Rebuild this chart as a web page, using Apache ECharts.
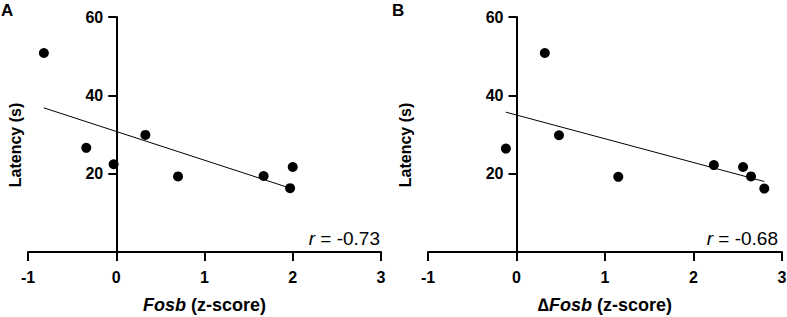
<!DOCTYPE html>
<html>
<head>
<meta charset="utf-8">
<script src="https://cdn.jsdelivr.net/npm/echarts@6/dist/echarts.min.js"></script>
<style>
  html, body { margin: 0; padding: 0; background: #fff; }
  #chart { width: 787px; height: 317px; }
</style>
</head>
<body>
<div id="chart"></div>
<script>
// panel A: Fosb z-score vs latency
var fosbA = [-0.82, -0.34, -0.03, 0.33, 0.70, 1.67, 2.00, 1.97];
var latA = [50.8, 26.6, 22.4, 29.9, 19.3, 19.4, 21.7, 16.3];
var fitXA = [-0.82, 1.93];
var fitYA = [36.8, 16.6];
// panel B: delta Fosb z-score vs latency
var fosbB = [0.32, -0.12, 0.48, 1.15, 2.23, 2.56, 2.65, 2.80];
var latB = [50.8, 26.4, 29.8, 19.2, 22.2, 21.7, 19.3, 16.2];
var fitXB = [-0.12, 2.80];
var fitYB = [35.7, 18.0];
var xTicks = [-1, 0, 1, 2, 3];
var yTicks = [20, 40, 60];

var font = 'Arial, "Liberation Sans", sans-serif';
var ink = '#000';

function pairs(xs, ys) {
  return xs.map(function(x, i) { return [x, ys[i]]; });
}

function xAxisFor(idx, name) {
  return {
    gridIndex: idx, type: 'value', min: xTicks[0], max: xTicks[xTicks.length - 1], interval: 1,
    axisLine: { onZero: false, lineStyle: { color: ink, width: 2 } },
    axisTick: { length: 9, lineStyle: { color: ink, width: 2 } },
    axisLabel: { color: ink, fontFamily: font, fontSize: 16, fontWeight: 'bold', margin: 17 },
    splitLine: { show: false },
    name: name, nameLocation: 'middle', nameGap: 44,
    nameTextStyle: {
      color: ink, fontFamily: font, fontSize: 18, fontWeight: 'bold',
      rich: { i: { fontStyle: 'italic', fontWeight: 'bold', fontSize: 18, fontFamily: font, color: ink } }
    }
  };
}

function yAxisFor(idx, off) {
  return {
    gridIndex: idx, type: 'value', min: 0, max: 60, interval: 20,
    offset: off,
    axisLine: { onZero: false, lineStyle: { color: ink, width: 2 } },
    axisTick: { length: 8, lineStyle: { color: ink, width: 2 } },
    axisLabel: {
      color: ink, fontFamily: font, fontSize: 16, fontWeight: 'bold', margin: 13,
      formatter: function(v) { return yTicks.indexOf(v) >= 0 ? String(v) : ''; }
    },
    splitLine: { show: false }
  };
}

function scatter(idx, xs, ys) {
  return {
    type: 'scatter', xAxisIndex: idx, yAxisIndex: idx,
    symbolSize: 10, itemStyle: { color: ink, opacity: 1 },
    data: pairs(xs, ys), z: 3
  };
}

function fit(idx, xs, ys) {
  return {
    type: 'line', xAxisIndex: idx, yAxisIndex: idx,
    showSymbol: false, symbol: 'none',
    lineStyle: { color: ink, width: 1 },
    data: pairs(xs, ys)
  };
}

function yName(x) {
  return { type: 'text', x: x, y: 145, rotation: Math.PI / 2,
    style: { text: 'Latency (s)', font: 'bold 16px ' + font, fill: ink, align: 'center', verticalAlign: 'middle' } };
}

function rText(x, txt) {
  return { type: 'text', x: x, y: 238,
    style: { text: '{i|r} = ' + txt, font: '19px ' + font, fill: ink, align: 'right', verticalAlign: 'middle',
      rich: { i: { fontStyle: 'italic', fontSize: 19, fontFamily: font } } } };
}

var chart = echarts.init(document.getElementById('chart'), null, { renderer: 'svg' });
chart.setOption({
  animation: false,
  backgroundColor: '#fff',
  grid: [
    { left: 28, top: 17, width: 353, height: 235, containLabel: false, outerBoundsMode: 'none' },
    { left: 428, top: 17, width: 354, height: 235, containLabel: false, outerBoundsMode: 'none' }
  ],
  xAxis: [xAxisFor(0, '{i|Fosb} (z-score)'), xAxisFor(1, '\u2206{i|Fosb} (z-score)')],
  yAxis: [yAxisFor(0, -353 / 4), yAxisFor(1, -354 / 4)],
  series: [
    fit(0, fitXA, fitYA), scatter(0, fosbA, latA),
    fit(1, fitXB, fitYB), scatter(1, fosbB, latB)
  ],
  graphic: [
    { type: 'text', left: 1, top: 2, style: { text: 'A', font: 'bold 17px ' + font, fill: ink } },
    { type: 'text', left: 392, top: 2, style: { text: 'B', font: 'bold 17px ' + font, fill: ink } },
    yName(15), yName(405),
    rText(380, '-0.73'), rText(778, '-0.68')
  ]
});
</script>
</body>
</html>
